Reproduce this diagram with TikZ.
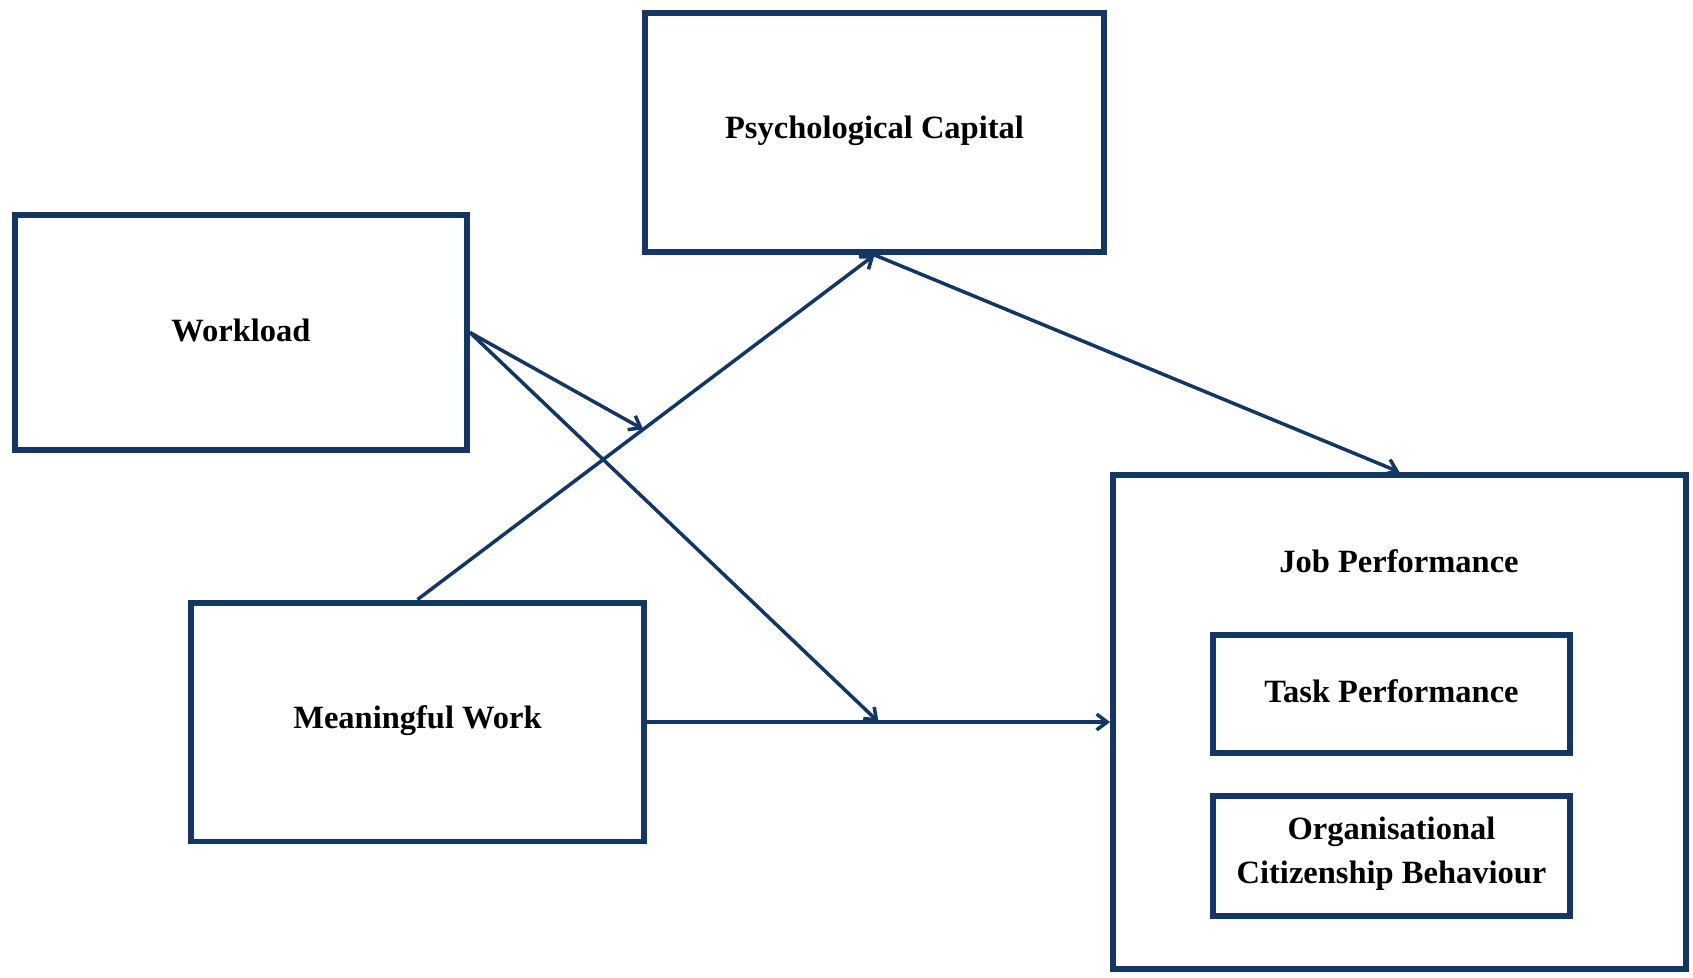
\documentclass[tikz,border=0pt]{standalone}
\usepackage{fontspec}
\setmainfont{Liberation Serif}
\usetikzlibrary{arrows.meta,calc}
\definecolor{navy}{RGB}{20,54,98}
\begin{document}
\begin{tikzpicture}[x=0.02cm,y=-0.02cm,
  box/.style={draw=navy,line width=3.4pt,rectangle,inner sep=0pt,align=center},
  lbl/.style={inner sep=0pt,align=center,font=\fontsize{18.5}{25}\selectfont\bfseries},
  conn/.style={draw=navy,line width=2pt,-{Straight Barb[length=6pt,width=9pt,line width=2pt]}}]
\useasboundingbox (0,0) rectangle (1693,977);
\node[box,minimum width=9.18cm,minimum height=4.78cm] (pc) at (874.5,132.5) {};
\node[lbl] (pct) at (874.5,131) {Psychological Capital};
\node[box,minimum width=9.04cm,minimum height=4.70cm] (wl) at (241,332.5) {};
\node[lbl] (wlt) at (241,330) {Workload};
\node[box,minimum width=9.06cm,minimum height=4.78cm] (mw) at (417.5,722) {};
\node[lbl] (mwt) at (417.5,721) {Meaningful Work};
\node[box,minimum width=11.46cm,minimum height=9.88cm] (jp) at (1399.5,722) {};
\node[lbl] (jpt) at (1399,561) {Job Performance};
\node[box,minimum width=7.14cm,minimum height=2.36cm] (tp) at (1391.5,694) {};
\node[lbl] (tpt) at (1391.5,691) {Task Performance};
\node[box,minimum width=7.14cm,minimum height=2.40cm] (ocb) at (1391.5,856) {};
\node[lbl] (ocbt) at (1391.5,854) {Organisational\\Citizenship Behaviour};
\coordinate (m1) at ($(mw.north)!0.494!(pc.south)$);
\coordinate (m2) at ($(mw.east)!0.5!(jp.west)$);
\draw[conn] (mw.north) -- (pc.south);
\draw[conn] (pc.south) -- (jp.north);
\draw[conn] (mw.east) -- (jp.west);
\draw[conn] (wl.east) -- (m1);
\draw[conn] (wl.east) -- (m2);
\end{tikzpicture}
\end{document}
